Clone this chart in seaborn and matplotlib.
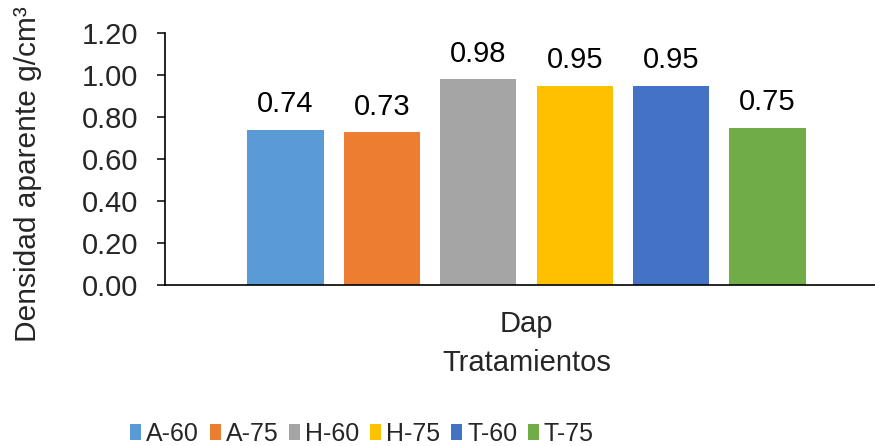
import matplotlib
matplotlib.use("Agg")
import matplotlib.pyplot as plt
import matplotlib.ticker as mticker
from matplotlib.patches import Patch
import seaborn as sns
import pandas as pd

categories = ["Dap"]
treatments = ["A-60", "A-75", "H-60", "H-75", "T-60", "T-75"]
values = [0.74, 0.73, 0.98, 0.95, 0.95, 0.75]
colors = ["#5B9BD5", "#ED7D31", "#A5A5A5", "#FFC000", "#4472C4", "#70AD47"]
y_ticks = [0.0, 0.2, 0.4, 0.6, 0.8, 1.0, 1.2]

sns.set_style("white")
plt.rcParams["font.family"] = ["Liberation Sans", "DejaVu Sans"]
plt.rcParams["font.size"] = 21

df = pd.DataFrame({"cat": categories * len(treatments),
                   "trat": treatments,
                   "val": values})

fig = plt.figure(figsize=(8.75, 4.46), dpi=100)
W, H = 875, 446
left, right, bottom, top = 165, 888, 285, 33
ax = fig.add_axes([left / W, 1 - bottom / H, (right - left) / W, (bottom - top) / H])

sns.barplot(data=df, x="cat", y="val", hue="trat", hue_order=treatments,
            palette=colors, width=0.8, gap=0.21, linewidth=0,
            saturation=1, legend=False, ax=ax)

ax.set_ylim(0, 1.2)
ax.set_xlim(-0.5, 0.5)
ax.set_yticks(y_ticks)
ax.yaxis.set_major_formatter(mticker.FormatStrFormatter("%.2f"))

for c in ax.containers:
    ax.bar_label(c, fmt="%.2f", padding=8, fontsize=21, color="#000000")

for s in ["top", "right"]:
    ax.spines[s].set_visible(False)
for s in ["left", "bottom"]:
    ax.spines[s].set_color("black")
    ax.spines[s].set_linewidth(1.2)

ax.tick_params(axis="y", direction="out", length=6, width=1.1, color="black",
               pad=13, labelsize=21, left=True)
ax.tick_params(axis="x", length=0, pad=18, labelsize=21)

ax.set_xlabel("Tratamientos", fontsize=21, labelpad=8)
ax.set_ylabel("Densidad aparente g/cm³", fontsize=21.5)
ax.yaxis.set_label_coords(-0.17, 0.44)

handles = [Patch(facecolor=c, edgecolor="none") for c in colors]
fig.legend(handles, treatments, loc="center",
           bbox_to_anchor=(362 / W, 1 - 434 / H), ncol=6, frameon=False,
           handlelength=0.44, handleheight=0.6, handletextpad=0.2,
           columnspacing=0.43, borderpad=0,
           prop={"size": 18})

fig.savefig("out.png", dpi=100)
